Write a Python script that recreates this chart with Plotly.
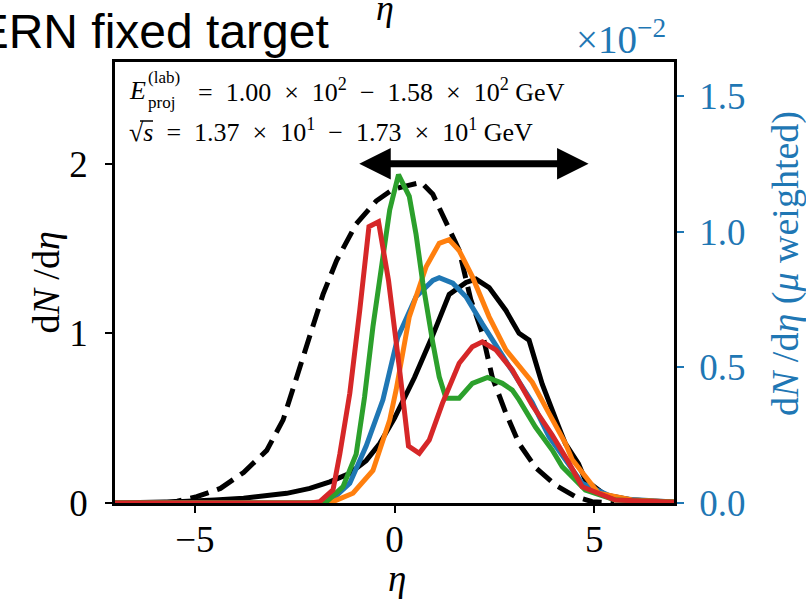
import plotly.graph_objects as go

# ---------------- data ----------------
eta_dashed = [-5.8, -5.44, -4.95, -4.36, -3.78, -3.2, -2.79, -2.45, -2.12, -1.79, -1.45,
              -0.96, -0.46, -0.04, 0.3, 0.67, 0.96, 1.29, 1.62, 1.91, 2.2, 2.45, 2.79,
              3.12, 3.53, 4.03, 4.53, 4.95, 5.5]
dndeta_dashed = [0.0, 0.01, 0.037, 0.086, 0.18, 0.31, 0.49, 0.74, 1.0, 1.23, 1.43,
                 1.645, 1.78, 1.85, 1.87, 1.89, 1.82, 1.66, 1.49, 1.2, 1.0, 0.74, 0.53,
                 0.35, 0.21, 0.106, 0.037, 0.008, 0.0]

eta_solid = [-7.0, -6.0, -5.44, -4.5, -3.78, -2.7, -2.12, -1.62, -1.12, -0.71, -0.37, 0.0,
             0.5, 0.96, 1.37, 1.79, 2.04, 2.37, 2.79, 3.12, 3.37, 3.7, 3.87, 4.11, 4.28,
             4.61, 4.78, 5.28, 5.95, 7.0]
dndeta_solid = [0.0, 0.003, 0.008, 0.018, 0.028, 0.057, 0.086, 0.125, 0.175, 0.25, 0.35, 0.5,
                0.74, 0.99, 1.23, 1.30, 1.32, 1.27, 1.135, 1.0, 0.96, 0.70, 0.59, 0.45, 0.35,
                0.23, 0.135, 0.047, 0.018, 0.005]

eta_blue = [-7.0, -2.0, -1.62, -1.12, -0.71, -0.29, 0.08, 0.54, 0.96, 1.12, 1.46, 1.79, 2.2,
            2.62, 3.03, 3.45, 3.87, 4.28, 4.7, 5.53, 6.78, 7.0]
mu_blue = [0.0, 0.0, 0.005, 0.073, 0.21, 0.38, 0.61, 0.76, 0.82, 0.83, 0.81, 0.76, 0.66,
           0.56, 0.465, 0.37, 0.244, 0.158, 0.073, 0.017, 0.005, 0.004]

eta_orange = [-7.0, -1.8, -1.54, -1.04, -0.54, -0.12, 0.04, 0.37, 0.79, 1.12, 1.37, 1.62,
              1.95, 2.37, 2.79, 3.12, 3.45, 3.87, 4.28, 4.45, 5.11, 5.95, 7.0]
mu_orange = [0.0, 0.0, 0.005, 0.036, 0.12, 0.306, 0.416, 0.686, 0.87, 0.957, 0.97, 0.93,
             0.834, 0.686, 0.564, 0.502, 0.445, 0.33, 0.22, 0.16, 0.036, 0.011, 0.004]

eta_green = [-7.0, -2.0, -1.7, -1.29, -0.96, -0.75, -0.54, -0.29, -0.12, 0.1, 0.37, 0.54,
             0.71, 0.96, 1.12, 1.29, 1.62, 1.95, 2.33, 2.7, 2.95, 3.12, 3.53, 3.95, 4.2,
             4.78, 5.53, 7.0]
mu_green = [0.0, 0.0, 0.005, 0.06, 0.18, 0.39, 0.65, 0.895, 1.08, 1.21, 1.13, 0.99,
            0.81, 0.59, 0.465, 0.386, 0.386, 0.441, 0.463, 0.441, 0.416, 0.38, 0.28, 0.195,
            0.134, 0.048, 0.011, 0.003]

eta_red = [-7.0, -2.1, -1.87, -1.54, -1.37, -1.12, -0.87, -0.64, -0.4, -0.15, 0.12, 0.35,
           0.62, 0.87, 1.2, 1.62, 1.95, 2.2, 2.54, 2.95, 3.45, 3.95, 4.36, 4.7, 5.53, 7.0]
mu_red = [0.0, 0.0, 0.005, 0.048, 0.18, 0.404, 0.71, 1.018, 1.036, 0.82, 0.5, 0.21,
          0.183, 0.232, 0.367, 0.515, 0.576, 0.594, 0.564, 0.49, 0.36, 0.25, 0.15, 0.06,
          0.011, 0.003]

arrow_eta = [-0.92, 4.86]
arrow_level = 2.0

x_ticks = [-5, 0, 5]
x_ticktext = ["\u22125", "0", "5"]
y_ticks = [0, 1, 2]
y_ticktext = ["0", "1", "2"]
y2_ticks = [0.0, 0.5, 1.0, 1.5]
y2_ticktext = ["0.0", "0.5", "1.0", "1.5"]

series_colors = ["#1f77b4", "#ff7f0e", "#2ca02c", "#d62728"]

# ---------------- layout helpers ----------------
W, H = 806, 605
L, R, T, B = 115, 674, 62, 503


def px(x):
    return (x - L) / (R - L)


def py(y):
    return (B - y) / (B - T)


SERIF = "Liberation Serif"
BLUE = "#1f77b4"

fig = go.Figure()

fig.add_trace(go.Scatter(x=eta_solid, y=dndeta_solid, mode="lines",
                         line=dict(color="black", width=5), yaxis="y"))
fig.add_trace(go.Scatter(x=eta_dashed, y=dndeta_dashed, mode="lines",
                         line=dict(color="black", width=5, dash="19px,9px"), yaxis="y"))
for xs, ys, c in [(eta_blue, mu_blue, series_colors[0]),
                  (eta_orange, mu_orange, series_colors[1]),
                  (eta_green, mu_green, series_colors[2]),
                  (eta_red, mu_red, series_colors[3])]:
    fig.add_trace(go.Scatter(x=xs, y=ys, mode="lines",
                             line=dict(color=c, width=5), yaxis="y2"))

tickfont = dict(family=SERIF, size=37, color="black")

fig.update_layout(
    width=W, height=H,
    margin=dict(l=L, r=W - R, t=T, b=H - B, pad=0),
    paper_bgcolor="white", plot_bgcolor="white",
    showlegend=False,
    xaxis=dict(range=[-7, 7], tickvals=x_ticks, ticktext=x_ticktext,
               showgrid=False, zeroline=False, showline=True, mirror=True,
               linecolor="black", linewidth=2.5, ticks="outside", ticklen=7,
               tickwidth=2, tickcolor="black", tickfont=tickfont,
               ticklabelstandoff=-5),
    yaxis=dict(range=[0, 2.6], tickvals=y_ticks, ticktext=y_ticktext,
               showgrid=False, zeroline=False, showline=True,
               linecolor="black", linewidth=2.5, ticks="outside", ticklen=7,
               tickwidth=2, tickcolor="black", tickfont=tickfont,
               ticklabelstandoff=10),
    yaxis2=dict(range=[0, 1.625], tickvals=y2_ticks, ticktext=y2_ticktext,
                overlaying="y", side="right",
                showgrid=False, zeroline=False, showline=True,
                linecolor="black", linewidth=2.5, ticks="outside", ticklen=7,
                tickwidth=2, tickcolor=BLUE,
                tickfont=dict(family=SERIF, size=37, color=BLUE),
                ticklabelstandoff=8),
)

ann = []
# double-headed arrow
ann.append(dict(x=arrow_eta[1], y=arrow_level, ax=arrow_eta[0], ay=arrow_level,
                xref="x", yref="y", axref="x", ayref="y", text="",
                showarrow=True, arrowhead=2, startarrowhead=2, arrowside="end+start",
                arrowwidth=7, arrowsize=0.9, startarrowsize=0.9, arrowcolor="black",
                standoff=0, startstandoff=0))

# title (cut at left edge)
ann.append(dict(x=px(331), y=py(31), xref="paper", yref="paper", xanchor="right",
                yanchor="middle", showarrow=False, text="CERN fixed target",
                font=dict(family="Liberation Sans", size=48, color="black")))
# top eta (cut)
ann.append(dict(x=px(385), y=py(8), xref="paper", yref="paper", xanchor="center",
                yanchor="middle", showarrow=False, text="<i>η</i>",
                font=dict(family=SERIF, size=36, color="black")))
# x10^-2
ann.append(dict(x=px(621), y=py(37), xref="paper", yref="paper", xanchor="center",
                yanchor="middle", showarrow=False, text="×10<sup>−2</sup>",
                font=dict(family=SERIF, size=39, color=BLUE)))
# axis titles
ann.append(dict(x=px(45), y=0.5, xref="paper", yref="paper", xanchor="center",
                yanchor="middle", showarrow=False, textangle=-90,
                text="d<i>N</i> /d<i>η</i>",
                font=dict(family=SERIF, size=38, color="black")))
ann.append(dict(x=px(785), y=py(264), xref="paper", yref="paper", xanchor="center",
                yanchor="middle", showarrow=False, textangle=-90,
                text="d<i>N</i> /d<i>η</i> (<i>μ</i> weighted)",
                font=dict(family=SERIF, size=38, color=BLUE)))
ann.append(dict(x=px(397), y=py(578), xref="paper", yref="paper", xanchor="center",
                yanchor="middle", showarrow=False, text="<i>η</i>",
                font=dict(family=SERIF, size=37, color="black")))

# text box
BOXF = dict(family=SERIF, size=26, color="black")
SMALLF = dict(family=SERIF, size=17, color="black")
ann.append(dict(x=px(127), y=py(90), xref="paper", yref="paper", xanchor="left",
                yanchor="middle", showarrow=False, text="<i>E</i>", font=BOXF))
ann.append(dict(x=px(146), y=py(77), xref="paper", yref="paper", xanchor="left",
                yanchor="middle", showarrow=False, text="(lab)", font=SMALLF))
ann.append(dict(x=px(146), y=py(102), xref="paper", yref="paper", xanchor="left",
                yanchor="middle", showarrow=False, text="proj", font=SMALLF))
ann.append(dict(x=px(196), y=py(90), xref="paper", yref="paper", xanchor="left",
                yanchor="middle", showarrow=False,
                text="=  1.00  ×  10<sup>2</sup>  −  1.58  ×  10<sup>2</sup> GeV", font=BOXF))
ann.append(dict(x=px(127), y=py(130), xref="paper", yref="paper", xanchor="left",
                yanchor="middle", showarrow=False,
                text="√<i>s</i>  =  1.37  ×  10<sup>1</sup>  −  1.73  ×  10<sup>1</sup> GeV",
                font=BOXF))

fig.update_layout(annotations=ann)

# overline of the square root
fig.add_shape(type="line", xref="paper", yref="paper", x0=px(140), x1=px(153),
              y0=py(121), y1=py(121), line=dict(color="black", width=1.5))

fig.write_html("out.html")
